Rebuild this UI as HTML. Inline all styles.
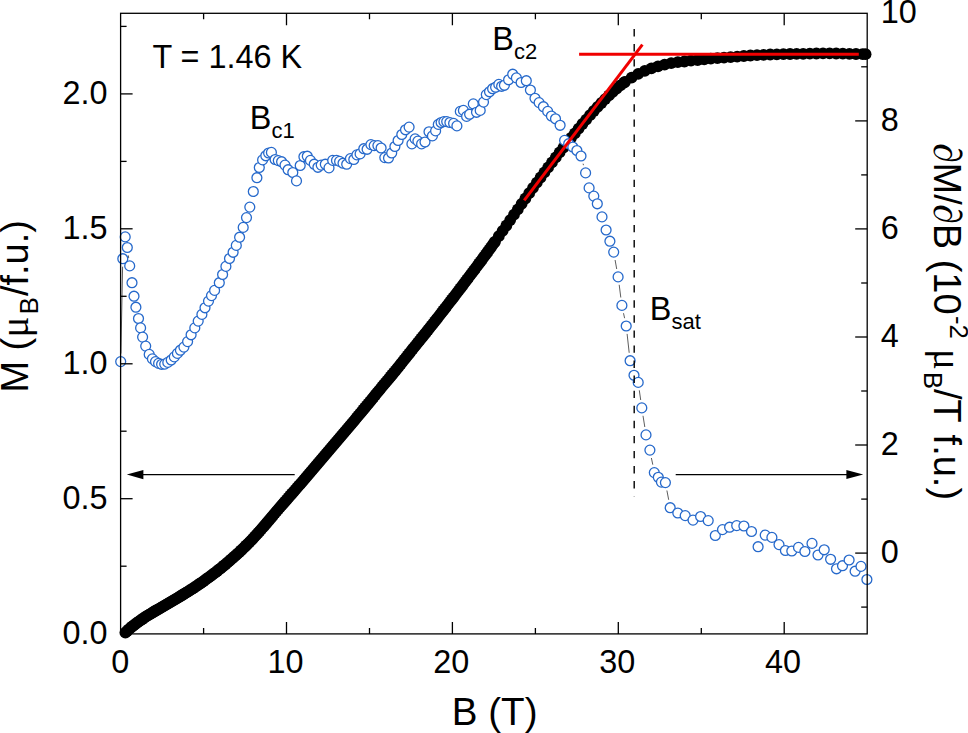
<!DOCTYPE html>
<html lang="en"><head><meta charset="utf-8"><title>M(B) and dM/dB at T = 1.46 K</title>
<style>html,body{margin:0;padding:0;background:#fff}svg{display:block}text{font-family:"Liberation Sans",Arial,Helvetica,sans-serif;fill:#000}text.ser{font-family:"Liberation Serif","DejaVu Serif",serif}</style>
</head><body>
<svg width="968" height="733" viewBox="0 0 968 733">
<rect width="968" height="733" fill="#fff"/>
<g fill="#000">
<circle cx="125.4" cy="632.6" r="5.9"/>
<circle cx="127.1" cy="631.0" r="5.9"/>
<circle cx="128.8" cy="629.4" r="5.9"/>
<circle cx="130.5" cy="627.9" r="5.9"/>
<circle cx="132.2" cy="626.5" r="5.9"/>
<circle cx="133.9" cy="625.2" r="5.9"/>
<circle cx="135.6" cy="623.9" r="5.9"/>
<circle cx="137.3" cy="622.6" r="5.9"/>
<circle cx="139.0" cy="621.4" r="5.9"/>
<circle cx="140.7" cy="620.2" r="5.9"/>
<circle cx="142.4" cy="619.0" r="5.9"/>
<circle cx="144.1" cy="617.9" r="5.9"/>
<circle cx="145.8" cy="616.7" r="5.9"/>
<circle cx="147.5" cy="615.7" r="5.9"/>
<circle cx="149.2" cy="614.6" r="5.9"/>
<circle cx="150.9" cy="613.6" r="5.9"/>
<circle cx="152.6" cy="612.6" r="5.9"/>
<circle cx="154.3" cy="611.5" r="5.9"/>
<circle cx="156.0" cy="610.5" r="5.9"/>
<circle cx="157.7" cy="609.6" r="5.9"/>
<circle cx="159.4" cy="608.6" r="5.9"/>
<circle cx="161.1" cy="607.6" r="5.9"/>
<circle cx="162.8" cy="606.6" r="5.9"/>
<circle cx="164.5" cy="605.6" r="5.9"/>
<circle cx="166.2" cy="604.6" r="5.9"/>
<circle cx="167.9" cy="603.7" r="5.9"/>
<circle cx="169.6" cy="602.7" r="5.9"/>
<circle cx="171.3" cy="601.7" r="5.9"/>
<circle cx="173.0" cy="600.7" r="5.9"/>
<circle cx="174.7" cy="599.7" r="5.9"/>
<circle cx="176.4" cy="598.6" r="5.9"/>
<circle cx="178.1" cy="597.6" r="5.9"/>
<circle cx="179.8" cy="596.6" r="5.9"/>
<circle cx="181.5" cy="595.5" r="5.9"/>
<circle cx="183.2" cy="594.5" r="5.9"/>
<circle cx="184.9" cy="593.4" r="5.9"/>
<circle cx="186.6" cy="592.4" r="5.9"/>
<circle cx="188.3" cy="591.3" r="5.9"/>
<circle cx="190.0" cy="590.2" r="5.9"/>
<circle cx="191.7" cy="589.2" r="5.9"/>
<circle cx="193.4" cy="588.1" r="5.9"/>
<circle cx="195.1" cy="586.9" r="5.9"/>
<circle cx="196.8" cy="585.8" r="5.9"/>
<circle cx="198.5" cy="584.7" r="5.9"/>
<circle cx="200.2" cy="583.5" r="5.9"/>
<circle cx="201.9" cy="582.3" r="5.9"/>
<circle cx="203.6" cy="581.1" r="5.9"/>
<circle cx="205.3" cy="579.9" r="5.9"/>
<circle cx="207.0" cy="578.7" r="5.9"/>
<circle cx="208.7" cy="577.4" r="5.9"/>
<circle cx="210.4" cy="576.2" r="5.9"/>
<circle cx="212.1" cy="574.9" r="5.9"/>
<circle cx="213.8" cy="573.6" r="5.9"/>
<circle cx="215.5" cy="572.3" r="5.9"/>
<circle cx="217.2" cy="571.0" r="5.9"/>
<circle cx="218.9" cy="569.6" r="5.9"/>
<circle cx="220.6" cy="568.3" r="5.9"/>
<circle cx="222.3" cy="566.9" r="5.9"/>
<circle cx="224.0" cy="565.5" r="5.9"/>
<circle cx="225.7" cy="564.1" r="5.9"/>
<circle cx="227.4" cy="562.6" r="5.9"/>
<circle cx="229.1" cy="561.2" r="5.9"/>
<circle cx="230.8" cy="559.7" r="5.9"/>
<circle cx="232.5" cy="558.2" r="5.9"/>
<circle cx="234.2" cy="556.7" r="5.9"/>
<circle cx="235.9" cy="555.2" r="5.9"/>
<circle cx="237.6" cy="553.6" r="5.9"/>
<circle cx="239.3" cy="552.1" r="5.9"/>
<circle cx="241.0" cy="550.5" r="5.9"/>
<circle cx="242.7" cy="548.8" r="5.9"/>
<circle cx="244.4" cy="547.2" r="5.9"/>
<circle cx="246.1" cy="545.5" r="5.9"/>
<circle cx="247.8" cy="543.8" r="5.9"/>
<circle cx="249.5" cy="542.1" r="5.9"/>
<circle cx="251.2" cy="540.4" r="5.9"/>
<circle cx="252.9" cy="538.6" r="5.9"/>
<circle cx="254.6" cy="536.7" r="5.9"/>
<circle cx="256.3" cy="534.9" r="5.9"/>
<circle cx="258.0" cy="533.0" r="5.9"/>
<circle cx="259.7" cy="531.1" r="5.9"/>
<circle cx="261.4" cy="529.1" r="5.9"/>
<circle cx="263.1" cy="527.2" r="5.9"/>
<circle cx="264.8" cy="525.2" r="5.9"/>
<circle cx="266.5" cy="523.2" r="5.9"/>
<circle cx="268.2" cy="521.2" r="5.9"/>
<circle cx="269.9" cy="519.2" r="5.9"/>
<circle cx="271.6" cy="517.2" r="5.9"/>
<circle cx="273.3" cy="515.1" r="5.9"/>
<circle cx="275.0" cy="513.1" r="5.9"/>
<circle cx="276.7" cy="511.1" r="5.9"/>
<circle cx="278.4" cy="509.1" r="5.9"/>
<circle cx="280.1" cy="507.2" r="5.9"/>
<circle cx="281.8" cy="505.2" r="5.9"/>
<circle cx="283.5" cy="503.2" r="5.9"/>
<circle cx="285.2" cy="501.3" r="5.9"/>
<circle cx="286.9" cy="499.3" r="5.9"/>
<circle cx="288.6" cy="497.4" r="5.9"/>
<circle cx="290.3" cy="495.4" r="5.9"/>
<circle cx="292.0" cy="493.5" r="5.9"/>
<circle cx="293.7" cy="491.6" r="5.9"/>
<circle cx="295.4" cy="489.6" r="5.9"/>
<circle cx="297.1" cy="487.7" r="5.9"/>
<circle cx="298.8" cy="485.7" r="5.9"/>
<circle cx="300.5" cy="483.8" r="5.9"/>
<circle cx="302.2" cy="481.8" r="5.9"/>
<circle cx="303.9" cy="479.8" r="5.9"/>
<circle cx="305.6" cy="477.8" r="5.9"/>
<circle cx="307.3" cy="475.8" r="5.9"/>
<circle cx="309.0" cy="473.8" r="5.9"/>
<circle cx="310.7" cy="471.8" r="5.9"/>
<circle cx="312.4" cy="469.8" r="5.9"/>
<circle cx="314.1" cy="467.8" r="5.9"/>
<circle cx="315.8" cy="465.8" r="5.9"/>
<circle cx="317.5" cy="463.8" r="5.9"/>
<circle cx="319.2" cy="461.8" r="5.9"/>
<circle cx="320.9" cy="459.8" r="5.9"/>
<circle cx="322.6" cy="457.8" r="5.9"/>
<circle cx="324.3" cy="455.8" r="5.9"/>
<circle cx="326.0" cy="453.8" r="5.9"/>
<circle cx="327.7" cy="451.8" r="5.9"/>
<circle cx="329.4" cy="449.8" r="5.9"/>
<circle cx="331.1" cy="447.8" r="5.9"/>
<circle cx="332.8" cy="445.8" r="5.9"/>
<circle cx="334.5" cy="443.8" r="5.9"/>
<circle cx="336.2" cy="441.8" r="5.9"/>
<circle cx="337.9" cy="439.8" r="5.9"/>
<circle cx="339.6" cy="437.8" r="5.9"/>
<circle cx="341.3" cy="435.8" r="5.9"/>
<circle cx="343.0" cy="433.8" r="5.9"/>
<circle cx="344.7" cy="431.8" r="5.9"/>
<circle cx="346.4" cy="429.8" r="5.9"/>
<circle cx="348.1" cy="427.8" r="5.9"/>
<circle cx="349.8" cy="425.8" r="5.9"/>
<circle cx="351.5" cy="423.8" r="5.9"/>
<circle cx="353.2" cy="421.8" r="5.9"/>
<circle cx="354.9" cy="419.8" r="5.9"/>
<circle cx="356.6" cy="417.7" r="5.9"/>
<circle cx="358.3" cy="415.7" r="5.9"/>
<circle cx="360.0" cy="413.7" r="5.9"/>
<circle cx="361.7" cy="411.6" r="5.9"/>
<circle cx="363.4" cy="409.5" r="5.9"/>
<circle cx="365.1" cy="407.5" r="5.9"/>
<circle cx="366.8" cy="405.4" r="5.9"/>
<circle cx="368.5" cy="403.3" r="5.9"/>
<circle cx="370.2" cy="401.3" r="5.9"/>
<circle cx="371.9" cy="399.2" r="5.9"/>
<circle cx="373.6" cy="397.1" r="5.9"/>
<circle cx="375.3" cy="395.0" r="5.9"/>
<circle cx="377.0" cy="392.9" r="5.9"/>
<circle cx="378.7" cy="390.9" r="5.9"/>
<circle cx="380.4" cy="388.8" r="5.9"/>
<circle cx="382.1" cy="386.7" r="5.9"/>
<circle cx="383.8" cy="384.7" r="5.9"/>
<circle cx="385.5" cy="382.6" r="5.9"/>
<circle cx="387.2" cy="380.6" r="5.9"/>
<circle cx="388.9" cy="378.6" r="5.9"/>
<circle cx="390.6" cy="376.5" r="5.9"/>
<circle cx="392.3" cy="374.5" r="5.9"/>
<circle cx="394.0" cy="372.4" r="5.9"/>
<circle cx="395.7" cy="370.3" r="5.9"/>
<circle cx="397.4" cy="368.2" r="5.9"/>
<circle cx="399.1" cy="366.1" r="5.9"/>
<circle cx="400.8" cy="364.0" r="5.9"/>
<circle cx="402.5" cy="361.9" r="5.9"/>
<circle cx="404.2" cy="359.7" r="5.9"/>
<circle cx="405.9" cy="357.6" r="5.9"/>
<circle cx="407.6" cy="355.4" r="5.9"/>
<circle cx="409.3" cy="353.3" r="5.9"/>
<circle cx="411.0" cy="351.1" r="5.9"/>
<circle cx="412.7" cy="349.0" r="5.9"/>
<circle cx="414.4" cy="346.9" r="5.9"/>
<circle cx="416.1" cy="344.8" r="5.9"/>
<circle cx="417.8" cy="342.7" r="5.9"/>
<circle cx="419.5" cy="340.6" r="5.9"/>
<circle cx="421.2" cy="338.4" r="5.9"/>
<circle cx="422.9" cy="336.3" r="5.9"/>
<circle cx="424.6" cy="334.2" r="5.9"/>
<circle cx="426.3" cy="332.1" r="5.9"/>
<circle cx="428.0" cy="330.0" r="5.9"/>
<circle cx="429.7" cy="327.8" r="5.9"/>
<circle cx="431.4" cy="325.7" r="5.9"/>
<circle cx="433.1" cy="323.6" r="5.9"/>
<circle cx="434.8" cy="321.4" r="5.9"/>
<circle cx="436.5" cy="319.2" r="5.9"/>
<circle cx="438.2" cy="317.1" r="5.9"/>
<circle cx="439.9" cy="314.9" r="5.9"/>
<circle cx="441.6" cy="312.7" r="5.9"/>
<circle cx="443.3" cy="310.5" r="5.9"/>
<circle cx="445.0" cy="308.3" r="5.9"/>
<circle cx="446.7" cy="306.1" r="5.9"/>
<circle cx="448.4" cy="303.9" r="5.9"/>
<circle cx="450.1" cy="301.7" r="5.9"/>
<circle cx="451.8" cy="299.5" r="5.9"/>
<circle cx="453.5" cy="297.3" r="5.9"/>
<circle cx="455.2" cy="295.1" r="5.9"/>
<circle cx="456.9" cy="292.8" r="5.9"/>
<circle cx="458.6" cy="290.6" r="5.9"/>
<circle cx="460.3" cy="288.4" r="5.9"/>
<circle cx="462.0" cy="286.2" r="5.9"/>
<circle cx="463.7" cy="283.9" r="5.9"/>
<circle cx="465.4" cy="281.7" r="5.9"/>
<circle cx="467.1" cy="279.4" r="5.9"/>
<circle cx="468.8" cy="277.1" r="5.9"/>
<circle cx="470.5" cy="274.9" r="5.9"/>
<circle cx="472.2" cy="272.6" r="5.9"/>
<circle cx="473.9" cy="270.4" r="5.9"/>
<circle cx="475.6" cy="268.1" r="5.9"/>
<circle cx="477.3" cy="265.8" r="5.9"/>
<circle cx="479.0" cy="263.5" r="5.9"/>
<circle cx="480.7" cy="261.3" r="5.9"/>
<circle cx="482.4" cy="259.0" r="5.9"/>
<circle cx="484.1" cy="256.7" r="5.9"/>
<circle cx="485.8" cy="254.3" r="5.9"/>
<circle cx="487.5" cy="252.0" r="5.9"/>
<circle cx="489.2" cy="249.7" r="5.9"/>
<circle cx="490.9" cy="247.3" r="5.9"/>
<circle cx="492.6" cy="244.9" r="5.9"/>
<circle cx="494.3" cy="242.6" r="5.9"/>
<circle cx="495.0" cy="241.6" r="5.9"/>
<circle cx="498.8" cy="236.2" r="5.9"/>
<circle cx="502.6" cy="230.9" r="5.9"/>
<circle cx="506.4" cy="225.5" r="5.9"/>
<circle cx="510.2" cy="220.1" r="5.9"/>
<circle cx="514.0" cy="214.7" r="5.9"/>
<circle cx="517.8" cy="209.3" r="5.9"/>
<circle cx="521.6" cy="203.9" r="5.9"/>
<circle cx="525.4" cy="198.5" r="5.9"/>
<circle cx="529.2" cy="193.2" r="5.9"/>
<circle cx="533.0" cy="187.9" r="5.9"/>
<circle cx="536.8" cy="182.7" r="5.9"/>
<circle cx="540.6" cy="177.5" r="5.9"/>
<circle cx="544.4" cy="172.4" r="5.9"/>
<circle cx="548.2" cy="167.3" r="5.9"/>
<circle cx="552.0" cy="162.3" r="5.9"/>
<circle cx="555.8" cy="157.4" r="5.9"/>
<circle cx="559.6" cy="152.4" r="5.9"/>
<circle cx="563.4" cy="147.6" r="5.9"/>
<circle cx="567.2" cy="142.7" r="5.9"/>
<circle cx="571.0" cy="138.0" r="5.9"/>
<circle cx="574.8" cy="133.3" r="5.9"/>
<circle cx="578.6" cy="128.6" r="5.9"/>
<circle cx="582.4" cy="124.0" r="5.9"/>
<circle cx="586.2" cy="119.6" r="5.9"/>
<circle cx="590.0" cy="115.2" r="5.9"/>
<circle cx="593.8" cy="111.0" r="5.9"/>
<circle cx="597.6" cy="106.9" r="5.9"/>
<circle cx="601.4" cy="103.0" r="5.9"/>
<circle cx="605.2" cy="99.1" r="5.9"/>
<circle cx="609.0" cy="95.4" r="5.9"/>
<circle cx="612.8" cy="91.9" r="5.9"/>
<circle cx="616.6" cy="88.5" r="5.9"/>
<circle cx="620.4" cy="85.4" r="5.9"/>
<circle cx="624.2" cy="82.5" r="5.9"/>
<circle cx="625.0" cy="81.9" r="5.9"/>
<circle cx="631.6" cy="77.6" r="5.9"/>
<circle cx="638.2" cy="73.9" r="5.9"/>
<circle cx="644.8" cy="70.8" r="5.9"/>
<circle cx="651.4" cy="68.3" r="5.9"/>
<circle cx="658.0" cy="66.3" r="5.9"/>
<circle cx="664.6" cy="64.6" r="5.9"/>
<circle cx="671.2" cy="63.2" r="5.9"/>
<circle cx="677.8" cy="62.2" r="5.9"/>
<circle cx="684.4" cy="61.5" r="5.9"/>
<circle cx="691.0" cy="60.7" r="5.9"/>
<circle cx="697.6" cy="60.0" r="5.9"/>
<circle cx="704.2" cy="59.3" r="5.9"/>
<circle cx="710.8" cy="58.7" r="5.9"/>
<circle cx="717.4" cy="58.2" r="5.9"/>
<circle cx="724.0" cy="57.7" r="5.9"/>
<circle cx="730.6" cy="57.1" r="5.9"/>
<circle cx="737.2" cy="56.6" r="5.9"/>
<circle cx="743.8" cy="56.0" r="5.9"/>
<circle cx="750.4" cy="55.5" r="5.9"/>
<circle cx="757.0" cy="55.1" r="5.9"/>
<circle cx="763.6" cy="54.9" r="5.9"/>
<circle cx="770.2" cy="54.5" r="5.9"/>
<circle cx="776.8" cy="54.3" r="5.9"/>
<circle cx="783.4" cy="54.1" r="5.9"/>
<circle cx="790.0" cy="54.0" r="5.9"/>
<circle cx="796.6" cy="53.9" r="5.9"/>
<circle cx="803.2" cy="53.8" r="5.9"/>
<circle cx="809.8" cy="53.6" r="5.9"/>
<circle cx="816.4" cy="53.5" r="5.9"/>
<circle cx="823.0" cy="53.4" r="5.9"/>
<circle cx="829.6" cy="53.4" r="5.9"/>
<circle cx="836.2" cy="53.5" r="5.9"/>
<circle cx="842.8" cy="53.7" r="5.9"/>
<circle cx="849.4" cy="53.9" r="5.9"/>
<circle cx="856.0" cy="54.0" r="5.9"/>
<circle cx="862.6" cy="54.1" r="5.9"/>
<circle cx="865.6" cy="54.2" r="5.9"/>
</g>
<path d="M120.9 353.6L122.6 266.7M123.7 250.7L124.3 244.9M128.3 255.4L128.7 258.0M583.1 163.7L583.5 165.2M615.1 260.0L616.7 269.0M619.2 284.8L620.8 297.5M623.5 313.2L624.6 318.2M627.1 333.9L629.2 352.8M639.3 390.3L640.7 400.0M643.0 415.8L644.8 427.0M651.4 458.0L652.8 464.7M666.9 490.5L668.7 499.8" fill="none" stroke="#333" stroke-width="0.8"/>
<g fill="#fff" stroke="#2669cb" stroke-width="1.3">
<circle cx="120.7" cy="361.6" r="4.95"/>
<circle cx="122.8" cy="258.7" r="4.95"/>
<circle cx="125.2" cy="236.9" r="4.95"/>
<circle cx="127.3" cy="247.5" r="4.95"/>
<circle cx="129.7" cy="265.9" r="4.95"/>
<circle cx="132.0" cy="282.7" r="4.95"/>
<circle cx="134.0" cy="296.2" r="4.95"/>
<circle cx="135.9" cy="307.2" r="4.95"/>
<circle cx="138.5" cy="318.5" r="4.95"/>
<circle cx="140.6" cy="327.9" r="4.95"/>
<circle cx="142.6" cy="337.1" r="4.95"/>
<circle cx="145.7" cy="346.1" r="4.95"/>
<circle cx="149.2" cy="354.4" r="4.95"/>
<circle cx="152.4" cy="358.9" r="4.95"/>
<circle cx="155.5" cy="361.6" r="4.95"/>
<circle cx="158.6" cy="363.4" r="4.95"/>
<circle cx="161.6" cy="364.3" r="4.95"/>
<circle cx="164.7" cy="364.1" r="4.95"/>
<circle cx="167.8" cy="362.4" r="4.95"/>
<circle cx="171.2" cy="360.0" r="4.95"/>
<circle cx="174.3" cy="356.9" r="4.95"/>
<circle cx="177.4" cy="353.4" r="4.95"/>
<circle cx="180.4" cy="350.2" r="4.95"/>
<circle cx="183.9" cy="347.1" r="4.95"/>
<circle cx="187.6" cy="341.6" r="4.95"/>
<circle cx="191.1" cy="334.8" r="4.95"/>
<circle cx="194.8" cy="327.9" r="4.95"/>
<circle cx="198.2" cy="321.1" r="4.95"/>
<circle cx="201.9" cy="314.4" r="4.95"/>
<circle cx="205.0" cy="307.8" r="4.95"/>
<circle cx="208.5" cy="301.1" r="4.95"/>
<circle cx="211.5" cy="295.6" r="4.95"/>
<circle cx="214.6" cy="290.4" r="4.95"/>
<circle cx="219.3" cy="282.7" r="4.95"/>
<circle cx="222.6" cy="274.5" r="4.95"/>
<circle cx="225.9" cy="266.4" r="4.95"/>
<circle cx="229.5" cy="258.5" r="4.95"/>
<circle cx="233.1" cy="252.3" r="4.95"/>
<circle cx="236.3" cy="245.4" r="4.95"/>
<circle cx="239.6" cy="237.2" r="4.95"/>
<circle cx="243.2" cy="227.4" r="4.95"/>
<circle cx="246.5" cy="217.6" r="4.95"/>
<circle cx="249.8" cy="207.1" r="4.95"/>
<circle cx="253.3" cy="191.5" r="4.95"/>
<circle cx="256.9" cy="177.7" r="4.95"/>
<circle cx="259.3" cy="167.5" r="4.95"/>
<circle cx="262.6" cy="159.9" r="4.95"/>
<circle cx="265.8" cy="155.8" r="4.95"/>
<circle cx="268.6" cy="153.0" r="4.95"/>
<circle cx="271.4" cy="152.4" r="4.95"/>
<circle cx="275.1" cy="159.5" r="4.95"/>
<circle cx="278.3" cy="160.6" r="4.95"/>
<circle cx="281.6" cy="161.7" r="4.95"/>
<circle cx="285.0" cy="165.1" r="4.95"/>
<circle cx="288.1" cy="169.7" r="4.95"/>
<circle cx="292.8" cy="172.5" r="4.95"/>
<circle cx="296.5" cy="180.9" r="4.95"/>
<circle cx="300.2" cy="165.5" r="4.95"/>
<circle cx="303.9" cy="156.7" r="4.95"/>
<circle cx="307.3" cy="156.2" r="4.95"/>
<circle cx="310.4" cy="160.4" r="4.95"/>
<circle cx="314.2" cy="164.2" r="4.95"/>
<circle cx="317.9" cy="167.3" r="4.95"/>
<circle cx="321.2" cy="165.1" r="4.95"/>
<circle cx="325.3" cy="164.2" r="4.95"/>
<circle cx="329.0" cy="167.9" r="4.95"/>
<circle cx="332.7" cy="160.4" r="4.95"/>
<circle cx="336.5" cy="160.4" r="4.95"/>
<circle cx="339.6" cy="161.4" r="4.95"/>
<circle cx="343.0" cy="163.2" r="4.95"/>
<circle cx="346.7" cy="164.2" r="4.95"/>
<circle cx="350.4" cy="158.6" r="4.95"/>
<circle cx="353.8" cy="159.5" r="4.95"/>
<circle cx="356.9" cy="154.9" r="4.95"/>
<circle cx="360.1" cy="153.9" r="4.95"/>
<circle cx="363.8" cy="148.7" r="4.95"/>
<circle cx="367.1" cy="149.3" r="4.95"/>
<circle cx="370.9" cy="144.6" r="4.95"/>
<circle cx="374.2" cy="145.6" r="4.95"/>
<circle cx="377.9" cy="145.6" r="4.95"/>
<circle cx="381.1" cy="148.0" r="4.95"/>
<circle cx="384.8" cy="157.6" r="4.95"/>
<circle cx="388.5" cy="158.0" r="4.95"/>
<circle cx="391.7" cy="153.0" r="4.95"/>
<circle cx="394.9" cy="146.5" r="4.95"/>
<circle cx="398.1" cy="140.5" r="4.95"/>
<circle cx="401.8" cy="134.5" r="4.95"/>
<circle cx="405.5" cy="129.8" r="4.95"/>
<circle cx="409.1" cy="127.1" r="4.95"/>
<circle cx="411.9" cy="143.9" r="4.95"/>
<circle cx="415.1" cy="138.9" r="4.95"/>
<circle cx="417.9" cy="141.1" r="4.95"/>
<circle cx="421.6" cy="143.9" r="4.95"/>
<circle cx="425.0" cy="142.0" r="4.95"/>
<circle cx="429.0" cy="131.8" r="4.95"/>
<circle cx="432.4" cy="135.9" r="4.95"/>
<circle cx="435.6" cy="130.9" r="4.95"/>
<circle cx="438.3" cy="124.4" r="4.95"/>
<circle cx="441.1" cy="122.5" r="4.95"/>
<circle cx="443.9" cy="121.6" r="4.95"/>
<circle cx="446.7" cy="121.6" r="4.95"/>
<circle cx="449.9" cy="122.5" r="4.95"/>
<circle cx="453.6" cy="123.4" r="4.95"/>
<circle cx="456.9" cy="125.9" r="4.95"/>
<circle cx="460.3" cy="111.4" r="4.95"/>
<circle cx="463.4" cy="110.4" r="4.95"/>
<circle cx="466.6" cy="116.4" r="4.95"/>
<circle cx="469.6" cy="114.2" r="4.95"/>
<circle cx="473.3" cy="103.9" r="4.95"/>
<circle cx="476.5" cy="112.3" r="4.95"/>
<circle cx="480.2" cy="110.4" r="4.95"/>
<circle cx="483.5" cy="102.1" r="4.95"/>
<circle cx="486.3" cy="94.6" r="4.95"/>
<circle cx="489.5" cy="91.8" r="4.95"/>
<circle cx="492.6" cy="88.7" r="4.95"/>
<circle cx="495.6" cy="87.2" r="4.95"/>
<circle cx="498.8" cy="84.4" r="4.95"/>
<circle cx="501.6" cy="86.3" r="4.95"/>
<circle cx="504.4" cy="85.3" r="4.95"/>
<circle cx="508.6" cy="79.8" r="4.95"/>
<circle cx="512.7" cy="74.2" r="4.95"/>
<circle cx="516.4" cy="77.9" r="4.95"/>
<circle cx="521.1" cy="82.5" r="4.95"/>
<circle cx="526.3" cy="80.7" r="4.95"/>
<circle cx="530.4" cy="90.0" r="4.95"/>
<circle cx="535.0" cy="98.3" r="4.95"/>
<circle cx="539.1" cy="102.6" r="4.95"/>
<circle cx="543.4" cy="106.7" r="4.95"/>
<circle cx="547.7" cy="111.4" r="4.95"/>
<circle cx="551.4" cy="116.0" r="4.95"/>
<circle cx="555.5" cy="118.8" r="4.95"/>
<circle cx="560.1" cy="125.3" r="4.95"/>
<circle cx="564.6" cy="140.4" r="4.95"/>
<circle cx="568.7" cy="143.7" r="4.95"/>
<circle cx="572.8" cy="147.0" r="4.95"/>
<circle cx="576.9" cy="150.5" r="4.95"/>
<circle cx="581.0" cy="156.0" r="4.95"/>
<circle cx="585.6" cy="172.9" r="4.95"/>
<circle cx="589.1" cy="187.9" r="4.95"/>
<circle cx="593.8" cy="196.1" r="4.95"/>
<circle cx="597.3" cy="203.8" r="4.95"/>
<circle cx="602.0" cy="216.9" r="4.95"/>
<circle cx="606.1" cy="230.0" r="4.95"/>
<circle cx="609.9" cy="241.2" r="4.95"/>
<circle cx="613.7" cy="252.1" r="4.95"/>
<circle cx="618.1" cy="276.9" r="4.95"/>
<circle cx="621.9" cy="305.4" r="4.95"/>
<circle cx="626.2" cy="326.0" r="4.95"/>
<circle cx="630.1" cy="360.7" r="4.95"/>
<circle cx="634.0" cy="375.3" r="4.95"/>
<circle cx="638.2" cy="382.4" r="4.95"/>
<circle cx="641.8" cy="407.9" r="4.95"/>
<circle cx="646.0" cy="434.9" r="4.95"/>
<circle cx="649.9" cy="450.1" r="4.95"/>
<circle cx="654.3" cy="472.6" r="4.95"/>
<circle cx="658.3" cy="477.3" r="4.95"/>
<circle cx="661.4" cy="482.1" r="4.95"/>
<circle cx="665.4" cy="482.6" r="4.95"/>
<circle cx="670.2" cy="507.7" r="4.95"/>
<circle cx="677.8" cy="513.0" r="4.95"/>
<circle cx="685.2" cy="515.6" r="4.95"/>
<circle cx="693.0" cy="520.1" r="4.95"/>
<circle cx="700.6" cy="516.5" r="4.95"/>
<circle cx="708.2" cy="520.6" r="4.95"/>
<circle cx="715.3" cy="535.5" r="4.95"/>
<circle cx="722.5" cy="529.6" r="4.95"/>
<circle cx="729.6" cy="527.2" r="4.95"/>
<circle cx="736.7" cy="525.6" r="4.95"/>
<circle cx="743.9" cy="526.0" r="4.95"/>
<circle cx="751.5" cy="531.5" r="4.95"/>
<circle cx="758.1" cy="546.7" r="4.95"/>
<circle cx="765.2" cy="535.1" r="4.95"/>
<circle cx="771.9" cy="537.4" r="4.95"/>
<circle cx="779.0" cy="544.6" r="4.95"/>
<circle cx="785.4" cy="550.5" r="4.95"/>
<circle cx="791.8" cy="551.0" r="4.95"/>
<circle cx="798.5" cy="547.4" r="4.95"/>
<circle cx="804.9" cy="551.5" r="4.95"/>
<circle cx="812.0" cy="543.4" r="4.95"/>
<circle cx="818.0" cy="555.0" r="4.95"/>
<circle cx="824.2" cy="549.8" r="4.95"/>
<circle cx="830.6" cy="559.3" r="4.95"/>
<circle cx="836.5" cy="568.8" r="4.95"/>
<circle cx="842.5" cy="565.7" r="4.95"/>
<circle cx="849.1" cy="560.0" r="4.95"/>
<circle cx="855.1" cy="571.2" r="4.95"/>
<circle cx="861.0" cy="566.4" r="4.95"/>
<circle cx="866.9" cy="579.5" r="4.95"/>
</g>
<line x1="634.2" y1="29" x2="634.2" y2="496.6" stroke="#000" stroke-width="1.4" stroke-dasharray="7.4 7.67"/>
<g stroke="#f00000" stroke-width="3.0" fill="none">
<line x1="524.2" y1="200.4" x2="642.4" y2="44.7"/>
<line x1="579.1" y1="54.2" x2="858.8" y2="54.2"/>
</g>
<g stroke="#000" stroke-width="1.3" fill="none" stroke-linecap="butt">
<rect x="120.6" y="13.3" width="746.6" height="620.6"/>
<path d="M203.6 633.9v-6M203.6 13.3v6"/>
<path d="M286.5 633.9v-12M286.5 13.3v12"/>
<path d="M369.5 633.9v-6M369.5 13.3v6"/>
<path d="M452.4 633.9v-12M452.4 13.3v12"/>
<path d="M535.4 633.9v-6M535.4 13.3v6"/>
<path d="M618.3 633.9v-12M618.3 13.3v12"/>
<path d="M701.3 633.9v-6M701.3 13.3v6"/>
<path d="M784.2 633.9v-12M784.2 13.3v12"/>
<path d="M120.6 566.2h6"/>
<path d="M120.6 498.7h12"/>
<path d="M120.6 431.2h6"/>
<path d="M120.6 363.8h12"/>
<path d="M120.6 296.3h6"/>
<path d="M120.6 228.8h12"/>
<path d="M120.6 161.4h6"/>
<path d="M120.6 93.9h12"/>
<path d="M120.6 26.4h6"/>
<path d="M867.2 607.1h-6"/>
<path d="M867.2 553.1h-12"/>
<path d="M867.2 499.1h-6"/>
<path d="M867.2 445.0h-12"/>
<path d="M867.2 391.0h-6"/>
<path d="M867.2 337.0h-12"/>
<path d="M867.2 283.0h-6"/>
<path d="M867.2 228.9h-12"/>
<path d="M867.2 174.9h-6"/>
<path d="M867.2 120.9h-12"/>
<path d="M867.2 66.8h-6"/>
</g>
<g stroke="#000" stroke-width="1.3" fill="#000">
<line x1="140" y1="474.6" x2="294.7" y2="474.6"/>
<line x1="675.7" y1="474.6" x2="850" y2="474.6"/>
</g>
<polygon points="126.8,474.6 143.4,470 143.4,479.2" fill="#000"/>
<polygon points="863.2,474.6 846.4,470.1 846.4,479.1" fill="#000"/>
<g font-size="32.4">
<text x="107.6" y="643.5" text-anchor="end">0.0</text>
<text x="107.6" y="508.6" text-anchor="end">0.5</text>
<text x="107.6" y="373.7" text-anchor="end">1.0</text>
<text x="107.6" y="238.7" text-anchor="end">1.5</text>
<text x="107.6" y="103.8" text-anchor="end">2.0</text>
<text x="120.2" y="673" text-anchor="middle">0</text>
<text x="285.4" y="673" text-anchor="middle">10</text>
<text x="451.3" y="673" text-anchor="middle">20</text>
<text x="617.2" y="673" text-anchor="middle">30</text>
<text x="783.1" y="673" text-anchor="middle">40</text>
<text x="880.8" y="563.4">0</text>
<text x="880.8" y="455.3">2</text>
<text x="880.8" y="347.3">4</text>
<text x="880.8" y="239.2">6</text>
<text x="880.8" y="131.2">8</text>
<text x="880.8" y="23.1">10</text>
</g>
<g font-size="32.4">
<text x="152.4" y="68">T = 1.46 K</text>
<text x="249.8" y="128.7">B<tspan font-size="22" dy="9.1">c1</tspan></text>
<text x="492.3" y="50.3">B<tspan font-size="22" dy="8.6">c2</tspan></text>
<text x="649.8" y="319.8">B<tspan font-size="22" dy="8.8">sat</tspan></text>
</g>
<g font-size="38">
<text x="494.7" y="724.9" text-anchor="middle" font-size="38.6">B (T)</text>
<g transform="translate(28.2,392.6) rotate(-90)">
<text x="0" y="0">M (</text>
<text x="55.2" y="0" class="ser" font-size="39">μ</text>
<text x="78.3" y="9.9" font-size="25.7">B</text>
<text x="96.5" y="0">/f.u.)</text>
</g>
<g transform="translate(934.2,143.7) rotate(90)">
<text x="-0.5" y="0" class="ser" font-style="italic" font-size="39.6">∂</text>
<text x="18.8" y="0">M/</text>
<text x="60.6" y="0" class="ser" font-style="italic" font-size="39.6">∂</text>
<text x="80.1" y="0">B (10</text>
<text x="172.2" y="-16.1" font-size="25.7">-2</text>
<text x="205.3" y="0" class="ser" font-size="39">μ</text>
<text x="228.2" y="9.9" font-size="25.7">B</text>
<text x="245.3" y="0">/T</text>
<text x="290.9" y="0">f.u.)</text>
</g>
</g>
</svg></body></html>
